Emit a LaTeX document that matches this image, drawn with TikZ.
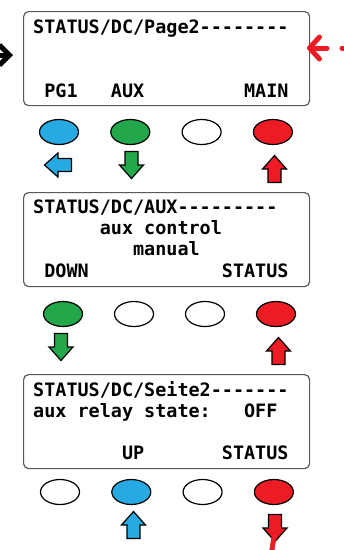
\documentclass[tikz,border=0pt]{standalone}
\usepackage{fontspec}
\usepackage{tikz}
\usetikzlibrary{arrows.meta,shapes.geometric}
\newfontfamily\lcdfont{DejaVu Sans Mono}[Ligatures=TeXOff]
\definecolor{keyblue}{HTML}{27AAE1}
\definecolor{keygreen}{HTML}{22A84A}
\definecolor{keyred}{HTML}{ED1C24}
\definecolor{lcdframe}{HTML}{5A5A5A}

\begin{document}
\begin{tikzpicture}[x=1pt,y=-1pt,
  screen/.style={draw=lcdframe,line width=1.2pt,rounded corners=5pt,fill=white,
    minimum width=286pt,minimum height=94pt,anchor=north west,inner sep=0pt},
  lcd/.style={anchor=base west,inner sep=0pt,font=\lcdfont\bfseries\fontsize{18.44}{20}\selectfont},
  key/.style={ellipse,draw,line width=1.2pt,fill=#1,minimum width=39pt,minimum height=25pt,inner sep=0pt},
  pics/keyarrow/.style={code={
    \draw[line width=1.2pt,fill=#1] (-6.5,-13.5) -- (6.5,-13.5) -- (6.5,0) -- (12,0)
      -- (0,13.5) -- (-12,0) -- (-6.5,0) -- cycle;}},
  redline/.style={draw=keyred,line width=5pt,line cap=round,line join=round}]
\useasboundingbox (0,0) rectangle (344,550);

\node[screen] (lcdA) at (23,11) {};
\node[lcd] (a1) at (33,33) {STATUS/DC/Page2--------};
\node[lcd] (a4a) at ({33+11.1*1},97) {PG1};
\node[lcd] (a4b) at ({33+11.1*7},97) {AUX};
\node[lcd] (a4c) at ({33+11.1*19},97) {MAIN};
\foreach \c [count=\i] in {keyblue,keygreen,white,keyred}
  \node[key=\c] (ka\i) at ({59+71.3*(\i-1)},132) {};
\pic[rotate=-90] at (58,165) {keyarrow=keyblue};
\pic at (131.5,165) {keyarrow=keygreen};
\pic[rotate=180] at (274.5,169) {keyarrow=keyred};

\node[screen] (lcdB) at (23,192) {};
\node[lcd] (b1) at (33,213) {STATUS/DC/AUX---------};
\node[lcd] (b2) at ({33+11.1*6},234) {aux control};
\node[lcd] (b3) at ({33+11.1*9},255) {manual};
\node[lcd] (b4a) at ({33+11.1*1},277) {DOWN};
\node[lcd] (b4b) at ({33+11.1*17},277) {STATUS};
\foreach \c [count=\i] in {keygreen,white,white,keyred}
  \node[key=\c] (kb\i) at ({63+71*(\i-1)},314) {};
\pic at (61,347) {keyarrow=keygreen};
\pic[rotate=180] at (278.5,351) {keyarrow=keyred};

\node[screen] (lcdC) at (23,374) {};
\node[lcd] (c1) at (33,396) {STATUS/DC/Seite2-------};
\node[lcd] (c2a) at (33,417) {aux relay state:};
\node[lcd] (c2b) at ({33+11.1*19},417) {OFF};
\node[lcd] (c4a) at ({33+11.1*8},459) {UP};
\node[lcd] (c4b) at ({33+11.1*17},459) {STATUS};
\foreach \c [count=\i] in {white,keyblue,white,keyred}
  \node[key=\c] (kc\i) at ({60+71.3*(\i-1)},492) {};
\pic[rotate=180] at (133.5,525) {keyarrow=keyblue};
\pic at (275,528) {keyarrow=keyred};

\coordinate (inL) at (-14,55);
\coordinate (inR) at (13,55);
\draw[line width=5pt,-{Straight Barb[length=10pt,width=20pt]}] (inL) -- (inR);
\coordinate (backL) at (307,48);
\coordinate (backR) at (354,48);
\draw[redline,dash pattern=on 12pt off 15pt on 80pt,-{Straight Barb[length=10pt,width=22pt,round]}] (backR) -- (backL);
\coordinate (downT) at (274,537);
\coordinate (downB) at (271,556);
\draw[redline] (downT) -- (downB);
\end{tikzpicture}
\end{document}
